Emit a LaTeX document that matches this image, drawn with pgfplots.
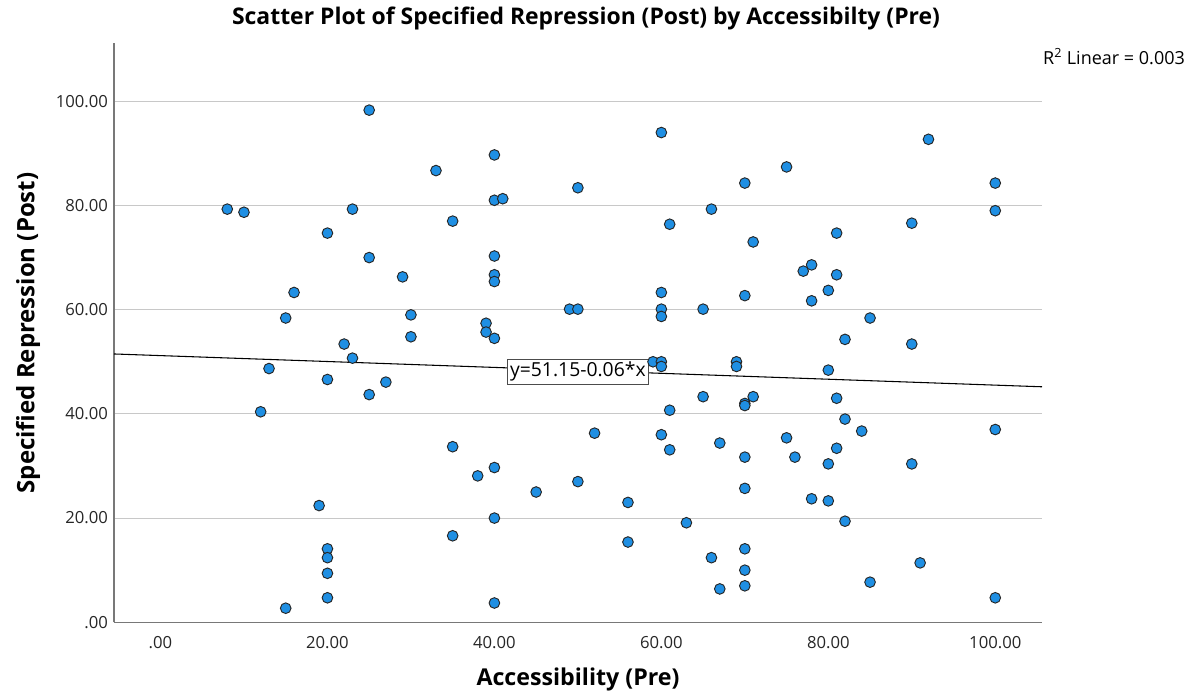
\documentclass[border=0pt]{standalone}
\usepackage{fontspec}
\setmainfont{Open Sans}
\usepackage{pgfplots}
\pgfplotsset{compat=1.18}
\usepackage{pgfplotstable}
\definecolor{ptblue}{RGB}{31,143,227}
\definecolor{gridgray}{RGB}{200,200,200}
\definecolor{axgray}{RGB}{120,120,120}
\pgfplotstableread{
x y
8 79.3
10 78.7
23 79.3
25 98.3
20 74.7
25 70.0
29 66.3
16 63.3
15 58.4
30 59.0
30 54.8
22 53.4
23 50.7
13 48.7
20 46.6
27 46.1
25 43.7
12 40.4
19 22.4
20 14.1
20 12.4
20 9.4
20 4.7
15 2.7
33 86.7
40 89.7
40 81.0
41 81.3
35 77.0
50 83.4
60 94.0
66 79.3
61 76.4
40 70.3
40 66.7
40 65.4
49 60.1
50 60.1
60 63.3
60 60.1
60 58.7
65 60.1
39 57.4
39 55.7
40 54.5
75 87.4
92 92.7
70 84.3
100 84.3
100 79.0
71 73.0
81 74.7
90 76.6
78 68.6
77 67.4
81 66.7
80 63.7
70 62.7
78 61.7
85 58.4
82 54.3
90 53.4
69 50.0
69 49.1
80 48.4
71 43.3
70 42.0
70 41.6
81 43.0
82 39.0
84 36.7
100 37.0
75 35.4
81 33.4
70 31.7
76 31.7
80 30.4
90 30.4
70 25.7
78 23.7
80 23.3
82 19.4
70 14.1
70 10.0
70 7.0
91 11.4
85 7.7
100 4.7
59 50.0
60 50.0
60 49.1
65 43.3
61 40.7
52 36.3
60 36.0
61 33.1
67 34.4
35 33.7
40 29.7
38 28.1
50 27.0
45 25.0
56 23.0
40 20.0
63 19.1
35 16.6
56 15.4
66 12.4
67 6.4
40 3.7
}\pts
\begin{document}
\begin{tikzpicture}
\path[use as bounding box] (-85.5pt,-53pt) rectangle (810.75pt,466.7pt);
\begin{axis}[
  at={(0,0)}, anchor=south west,
  scale only axis,
  width=696pt, height=434.5pt,
  xmin=-5.57, xmax=105.6,
  ymin=0, ymax=111.2,
  axis x line*=bottom, axis y line*=left,
  axis line style={axgray, line width=0.8pt, -},
  xtick={0,20,40,60,80,100},
  xticklabels={.00,20.00,40.00,60.00,80.00,100.00},
  ytick={0,20,40,60,80,100},
  yticklabels={.00,20.00,40.00,60.00,80.00,100.00},
  major tick length=0pt,
  tick label style={font=\fontsize{12.5}{14}\selectfont, text=black!85},
  xticklabel style={yshift=-7pt},
  yticklabel style={xshift=-1pt},
  ymajorgrids,
  grid style={gridgray, line width=0.8pt},
  title={\bfseries Scatter Plot of Specified Repression (Post) by Accessibilty (Pre)},
  title style={font=\fontsize{17.2}{19}\selectfont, at={(rel axis cs:0.5086,1.0276)}, anchor=center},
  xlabel={\bfseries Accessibility (Pre)},
  ylabel={\bfseries Specified Repression (Post)},
  xlabel style={font=\fontsize{17.4}{19}\selectfont, at={(rel axis cs:0.5,-0.0996)}, anchor=center},
  ylabel style={font=\fontsize{18}{20}\selectfont, at={(rel axis cs:-0.0927,0.4994)}, anchor=center, rotate=0},
  clip=false,
]
\addplot[only marks, mark=*, mark size=4pt,
  mark options={fill=ptblue, draw=black!85, line width=0.7pt}]
  table[x=x, y=y] {\pts};
\addplot[black, line width=0.8pt] coordinates {(-5.57,51.5) (105.6,45.2)};
\node[draw=black!70, fill=white, line width=0.6pt, inner sep=2pt,
  font=\fontsize{14.5}{16}\selectfont] at (axis cs:50,48.1) {y=51.15-0.06*x};
\node[anchor=west, font=\fontsize{13.5}{15}\selectfont, inner sep=0pt]
  at (rel axis cs:1.001,0.9758) {R\textsuperscript{2} Linear = 0.003};
\end{axis}
\end{tikzpicture}
\end{document}
